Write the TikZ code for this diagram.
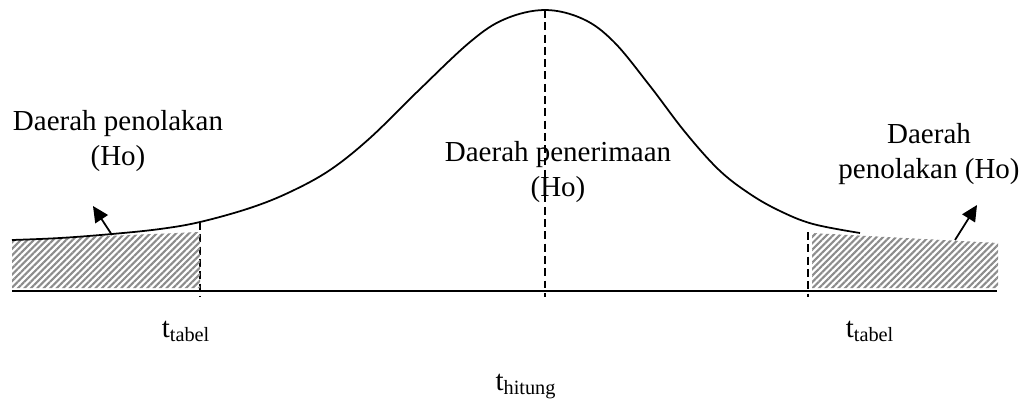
\documentclass[tikz,border=0pt]{standalone}
\usepackage{fontspec}
\setmainfont{Liberation Serif}
\usepackage{tikz}
\usetikzlibrary{arrows.meta, patterns.meta}
\definecolor{hatchcol}{RGB}{140, 140, 140}
\definecolor{inkcol}{RGB}{0, 0, 0}

\begin{document}
\begin{tikzpicture}[
    x=0.02cm, y=-0.02cm,
    >={Triangle[length=9pt, width=8.5pt]},
    font=\fontsize{16.5}{19.5}\selectfont,
    axisline/.style={line width=1pt, draw=inkcol},
    curveline/.style={line width=1pt, draw=inkcol},
    markline/.style={line width=1pt, draw=inkcol, dash pattern=on 4.5pt off 2.5pt},
    hatchbox/.style={draw=none, fill=white,
                     pattern={Lines[angle=45, distance=2.6pt, line width=1.2pt]},
                     pattern color=hatchcol},
    pointer/.style={->, line width=1pt, draw=inkcol},
    regionlabel/.style={align=center, inner sep=0pt},
    tlabel/.style={anchor=base, inner sep=0pt},
]
\useasboundingbox (0,0) rectangle (1026,403);

% ============================================================
% DASHED MARKERS
% ============================================================
\coordinate (tabelLtop) at (200,222);
\coordinate (tabelLbot) at (200,297);
\coordinate (hitungtop) at (545,10);
\coordinate (hitungbot) at (545,297);
\coordinate (tabelRtop) at (808,232);
\coordinate (tabelRbot) at (808,297);
\draw[markline] (tabelLtop) -- (tabelLbot);
\draw[markline] (hitungtop) -- (hitungbot);
\draw[markline] (tabelRtop) -- (tabelRbot);

% ============================================================
% REJECTION AREAS (hatched)
% ============================================================
\path[hatchbox] (12,240) -- (200,232) -- (200,288) -- (12,288) -- cycle;
\path[hatchbox] (812,233) -- (998,243) -- (998,288) -- (812,288) -- cycle;

% ============================================================
% CURVE AND AXIS
% ============================================================
\draw[curveline] plot[smooth, tension=0.6] coordinates {
    (12,240) (60,238) (112,234) (160,229) (200,222) (250,208)
    (290,192) (330,170) (370,138) (417,92) (470,42) (505,19)
    (545,10) (583,19) (614,42) (650,86) (685,132) (719,170)
    (750,194) (780,211) (813,224) (860,233)};

\coordinate (axisL) at (12,291);
\coordinate (axisR) at (997,291);
\draw[axisline] (axisL) -- (axisR);

% ============================================================
% LABELS
% ============================================================
\node[regionlabel] (tolakL) at (118,141) {Daerah penolakan\\(Ho)};
\node[regionlabel] (terima) at (558,172) {Daerah penerimaan\\(Ho)};
\node[regionlabel] (tolakR) at (929,154) {Daerah\\penolakan (Ho)};

\node[tlabel] (tabelL) at (186,337) {t\textsubscript{tabel}};
\node[tlabel] (tabelR) at (870,337) {t\textsubscript{tabel}};
\node[tlabel] (hitung) at (526,390) {t\textsubscript{hitung}};

% ============================================================
% POINTERS
% ============================================================
\coordinate (footL) at (112,235);
\coordinate (tipL) at (93,206);
\coordinate (footR) at (955,240);
\coordinate (tipR) at (977,205);
\draw[pointer] (footL) -- (tipL);
\draw[pointer] (footR) -- (tipR);

\end{tikzpicture}
\end{document}
